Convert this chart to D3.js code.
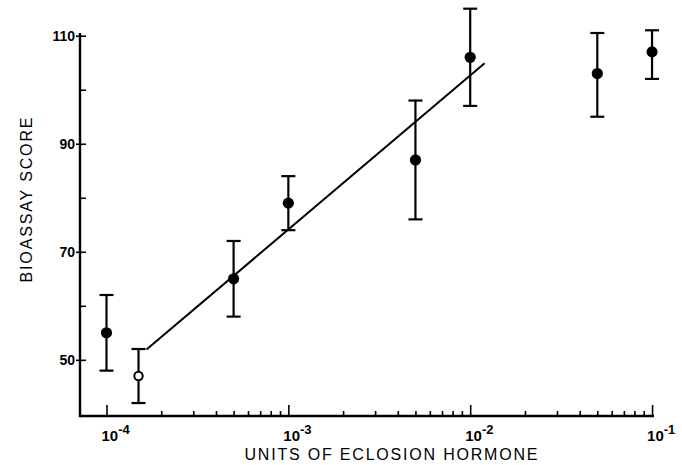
<!DOCTYPE html>
<html>
<head>
<meta charset="utf-8">
<script src="https://cdn.jsdelivr.net/npm/d3@7"></script>
<style>
  body { margin: 0; background: #fff; }
  svg { display: block; font-family: "Liberation Sans", Arial, sans-serif; }
</style>
</head>
<body>
<div id="chart"></div>
<script>
// hormone dose (units), bioassay score and error bar ends
const doses    = [1e-4, 1.5e-4, 5e-4, 1e-3, 5e-3, 1e-2, 5e-2, 1e-1];
const scores   = [55, 47, 65, 79, 87, 106, 103, 107];
const errLow   = [48, 42, 58, 74, 76, 97, 95, 102];
const errHigh  = [62, 52, 72, 84, 98, 115, 110.5, 111];
const openMark = [false, true, false, false, false, false, false, false];

// fitted regression line (two end points)
const fitDoses  = [1.66e-4, 1.2e-2];
const fitScores = [51.9, 104.9];

const yTicks = [50, 70, 90, 110];
const yMinor = [60, 80, 100];
const xMajor = [1e-4, 1e-3, 1e-2, 1e-1];
const xLabelExp = ["-4", "-3", "-2", "-1"];

const W = 682, H = 465;

const svg = d3.select("#chart").append("svg")
    .attr("width", W)
    .attr("height", H);

let x = d3.scaleLog()
    .domain([7.15e-5, 0.1025])
    .range([80, 654]);

let y = d3.scaleLinear()
    .domain([39.6, 110.5])
    .range([416, 33]);

// minor x ticks: 2..9 in each decade
let xMinor = [];
for (let d = 0; d < 3; d++) {
    for (let m = 2; m <= 9; m++) {
        xMinor.push(m * Math.pow(10, -4 + d));
    }
}

let xaxisMinor = svg.append("g")
    .attr("transform", "translate(0," + y.range()[0] + ")")
    .call(d3.axisBottom(x).tickValues(xMinor).tickSize(-5).tickFormat(""));

let xaxis = svg.append("g")
    .attr("transform", "translate(0," + y.range()[0] + ")")
    .call(d3.axisBottom(x).tickValues(xMajor).tickSize(-11).tickFormat(""));

let yaxis = svg.append("g")
    .attr("transform", "translate(" + x.range()[0] + ",0)")
    .call(d3.axisRight(y).tickValues(yMinor).tickSize(6).tickFormat(""));

let yaxisMajor = svg.append("g")
    .attr("transform", "translate(" + x.range()[0] + ",0)")
    .call(d3.axisRight(y).tickValues(yTicks).tickSize(6).tickFormat(""));

svg.selectAll(".domain").remove();
svg.selectAll(".tick line").attr("stroke", "#000").attr("stroke-width", 1.6);

// major y ticks poke out a little to the left
yaxisMajor.selectAll(".tick line").attr("x1", -4);

// axis lines
svg.append("line")
    .attr("x1", x.range()[0]).attr("x2", x.range()[1])
    .attr("y1", y.range()[0]).attr("y2", y.range()[0])
    .attr("stroke", "#000").attr("stroke-width", 2.4);
svg.append("line")
    .attr("x1", x.range()[0]).attr("x2", x.range()[0])
    .attr("y1", y.range()[0] + 1.2).attr("y2", y.range()[1])
    .attr("stroke", "#000").attr("stroke-width", 2.4);

// y tick labels
svg.selectAll(".ylab")
    .data(yTicks)
    .enter()
    .append("text")
    .attr("x", 75)
    .attr("y", d => y(d) + 5)
    .attr("text-anchor", "end")
    .attr("font-size", 14)
    .attr("font-weight", "bold")
    .text(d => d);

// x tick labels: 10 with superscript exponent
let xl = svg.selectAll(".xlab")
    .data(xMajor)
    .enter()
    .append("text")
    .attr("x", d => x(d) - 5)
    .attr("y", 441)
    .attr("font-size", 15)
    .attr("font-weight", "bold");
xl.append("tspan").text("10");
xl.append("tspan")
    .attr("dy", -7)
    .attr("font-size", 13)
    .text((d, i) => xLabelExp[i]);

// axis titles
svg.append("text")
    .attr("x", 391)
    .attr("y", 460)
    .attr("text-anchor", "middle")
    .attr("font-size", 16)
    .attr("textLength", 293)
    .attr("lengthAdjust", "spacing")
    .text("UNITS OF ECLOSION HORMONE");

svg.append("text")
    .attr("transform", "translate(32,200) rotate(-90)")
    .attr("text-anchor", "middle")
    .attr("font-size", 16)
    .attr("textLength", 165)
    .attr("lengthAdjust", "spacing")
    .text("BIOASSAY SCORE");

// regression line
svg.append("line")
    .attr("x1", x(fitDoses[0])).attr("y1", y(fitScores[0]))
    .attr("x2", x(fitDoses[1])).attr("y2", y(fitScores[1]))
    .attr("stroke", "#000").attr("stroke-width", 2);

// error bars
let bars = svg.selectAll(".err")
    .data(doses)
    .enter()
    .append("g");

bars.append("line")
    .attr("x1", d => x(d)).attr("x2", d => x(d))
    .attr("y1", (d, i) => y(errLow[i]))
    .attr("y2", (d, i) => y(errHigh[i]))
    .attr("stroke", "#000").attr("stroke-width", 2.2);
bars.append("line")
    .attr("x1", d => x(d) - 7).attr("x2", d => x(d) + 7)
    .attr("y1", (d, i) => y(errLow[i]))
    .attr("y2", (d, i) => y(errLow[i]))
    .attr("stroke", "#000").attr("stroke-width", 2.2);
bars.append("line")
    .attr("x1", d => x(d) - 7).attr("x2", d => x(d) + 7)
    .attr("y1", (d, i) => y(errHigh[i]))
    .attr("y2", (d, i) => y(errHigh[i]))
    .attr("stroke", "#000").attr("stroke-width", 2.2);

// points
svg.selectAll(".pt")
    .data(doses)
    .enter()
    .append("circle")
    .attr("cx", d => x(d))
    .attr("cy", (d, i) => y(scores[i]))
    .attr("r", (d, i) => openMark[i] ? 4.2 : 5.6)
    .attr("fill", (d, i) => openMark[i] ? "#fff" : "#000")
    .attr("stroke", "#000")
    .attr("stroke-width", (d, i) => openMark[i] ? 2 : 0);
</script>
</body>
</html>
